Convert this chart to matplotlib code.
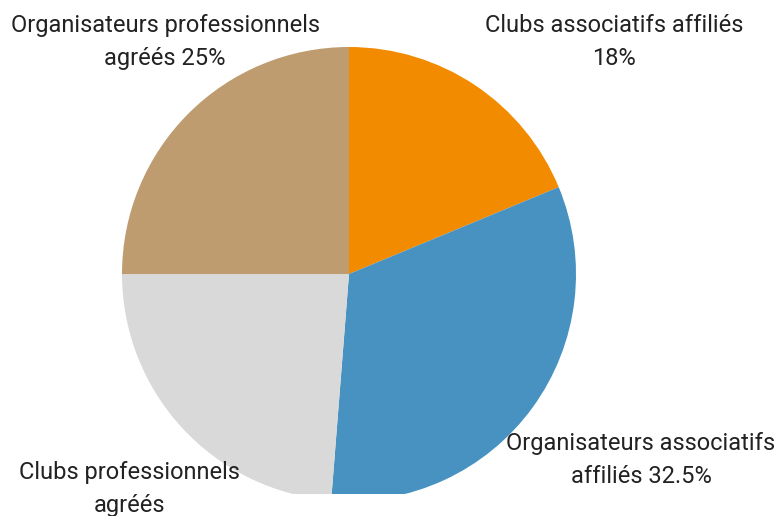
import matplotlib
matplotlib.use("Agg")
import matplotlib.pyplot as plt

categories = ["Clubs associatifs affiliés", "Organisateurs associatifs affiliés",
              "Clubs professionnels agréés", "Organisateurs professionnels agréés"]
values = [18.75, 32.5, 23.75, 25]
labels = ["Clubs associatifs affiliés\n18%",
          "Organisateurs associatifs\naffiliés 32.5%",
          "Clubs professionnels\nagréés",
          "Organisateurs professionnels\nagréés 25%"]
colors = ["#F28B00", "#4792C0", "#D9D9D9", "#BF9B70"]

W, H = 777, 516
bottom_px = 494  # pie is cut off at this pixel row
fig = plt.figure(figsize=(W / 100, H / 100), dpi=100)
ax = fig.add_axes([0, (H - bottom_px) / H, 1, bottom_px / H])
cx, cy, r = 349, 274, 227

wedges, _ = ax.pie(values, colors=colors, startangle=90, counterclock=False,
                   radius=1, center=(0, 0), frame=True,
                   wedgeprops=dict(linewidth=0))
ax.set_xlim(-cx / r, (W - cx) / r)
ax.set_ylim(-(bottom_px - cy) / r, cy / r)
ax.set_aspect("auto")
ax.axis("off")
for w in wedges:
    w.set_clip_on(True)

def px(x, y):
    return ((x - cx) / r, (cy - y) / r)

label_pos = [(614, 42), (641, 460), (129, 489), (165, 42)]
for lab, (x, y) in zip(labels, label_pos):
    X, Y = px(x, y)
    ax.text(X, Y, lab, ha="center", va="center", fontsize=17, family="Roboto",
            color="#222222", linespacing=1.6, clip_on=False)

fig.savefig("out.png", dpi=100)
